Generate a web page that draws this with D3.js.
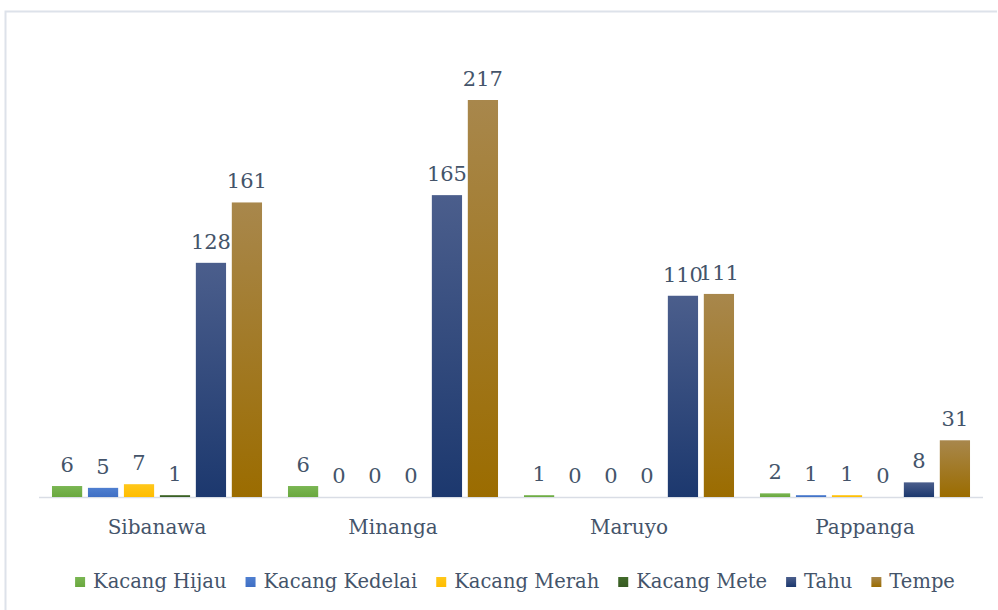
<!DOCTYPE html>
<html>
<head>
<meta charset="utf-8">
<script src="https://cdn.jsdelivr.net/npm/d3@7"></script>
<style>
  html, body { margin: 0; padding: 0; background: #ffffff; }
  svg { display: block; }
  text { font-family: "DejaVu Serif", "Liberation Serif", serif; fill: #44546a; }
</style>
</head>
<body>
<svg id="chart" width="998" height="610"></svg>
<script>
const categories = ["Sibanawa", "Minanga", "Maruyo", "Pappanga"];
const seriesNames = ["Kacang Hijau", "Kacang Kedelai", "Kacang Merah", "Kacang Mete", "Tahu", "Tempe"];
const kacangHijau   = [6, 6, 1, 2];
const kacangKedelai = [5, 0, 0, 1];
const kacangMerah   = [7, 0, 0, 1];
const kacangMete    = [1, 0, 0, 0];
const tahu          = [128, 165, 110, 8];
const tempe         = [161, 217, 111, 31];
const seriesValues = [kacangHijau, kacangKedelai, kacangMerah, kacangMete, tahu, tempe];
const colorTop    = ["#7ab653", "#4f7fd0", "#ffc71a", "#426b2a", "#4b5e8c", "#a8874c"];
const colorBottom = ["#6aa83f", "#3f6fc4", "#ffbd00", "#375a23", "#1c386e", "#9b6c00"];

const svg = d3.select("#chart");
const W = 998, H = 610;

// outer frame
svg.append("path")
  .attr("d", "M5.5,610 L5.5,11.5 L997,11.5")
  .attr("fill", "none").attr("stroke", "#dde2ea").attr("stroke-width", 2);

const margin = { left: 39, right: 15, top: 100, bottom: 113 };
const x0 = d3.scaleBand().domain(categories).range([margin.left, W - margin.right]).paddingInner(0.11).paddingOuter(0.055);
const x1 = d3.scaleBand().domain(seriesNames).range([0, x0.bandwidth()]).paddingInner(0.16);
const y = d3.scaleLinear().domain([0, 217]).range([H - margin.bottom, margin.top]);

const defs = svg.append("defs");
seriesNames.forEach((s, i) => {
  const g = defs.append("linearGradient").attr("id", "grad" + i)
    .attr("x1", 0).attr("y1", 0).attr("x2", 0).attr("y2", 1);
  g.append("stop").attr("offset", "0%").attr("stop-color", colorTop[i]);
  g.append("stop").attr("offset", "100%").attr("stop-color", colorBottom[i]);
});

const rows = [];
categories.forEach((c, ci) => {
  seriesNames.forEach((s, si) => rows.push({ cat: c, series: s, si, value: seriesValues[si][ci] }));
});

// baseline axis
const axisG = svg.append("g").attr("transform", `translate(0,${y(0)})`)
  .call(d3.axisBottom(x0).tickSize(0).tickPadding(23));
axisG.select(".domain").attr("stroke", "#d9dde5").attr("stroke-width", 1.5)
  .attr("d", `M${x0.range()[0]},0.5H${x0.range()[1]}`);
axisG.selectAll("text").style("font-family", '"DejaVu Serif", serif').style("font-size", "20px").attr("fill", "#44546a");

// bars
svg.append("g").selectAll("rect").data(rows).join("rect")
  .attr("x", d => x0(d.cat) + x1(d.series))
  .attr("width", x1.bandwidth())
  .attr("y", d => y(d.value))
  .attr("height", d => y(0) - y(d.value))
  .attr("fill", d => `url(#grad${d.si})`);

// data labels
svg.append("g").selectAll("text").data(rows).join("text")
  .attr("x", d => x0(d.cat) + x1(d.series) + x1.bandwidth() / 2)
  .attr("y", d => y(d.value) - 14)
  .attr("text-anchor", "middle")
  .style("font-size", "21px")
  .text(d => d.value);

// legend
const legend = svg.append("g");
let lx = 0;
seriesNames.forEach((s, i) => {
  const g = legend.append("g");
  g.append("rect").attr("x", 0).attr("y", -11).attr("width", 10).attr("height", 10).attr("fill", `url(#grad${i})`);
  const t = g.append("text").attr("x", 18).attr("y", 0).style("font-size", "19.5px").text(s);
  const w = t.node().getComputedTextLength();
  g.attr("transform", `translate(${lx},0)`);
  lx += 18 + w + 19;
});
const totalW = lx - 19;
legend.attr("transform", `translate(${515 - totalW / 2},588)`);
</script>
</body>
</html>
